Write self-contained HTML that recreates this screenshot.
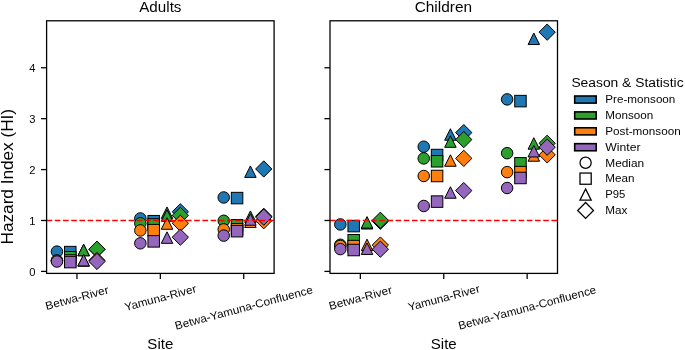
<!DOCTYPE html>
<html><head><meta charset="utf-8"><title>Hazard Index</title>
<style>html,body{margin:0;padding:0;background:#fff;}svg{display:block;}
text{fill:#000;font-family:"Liberation Sans",sans-serif;}</style></head>
<body><svg width="685" height="350" viewBox="0 0 685 350">
<rect width="685" height="350" fill="#fff"/>
<circle cx="56.94" cy="251.60" r="5.75" fill="#1f77b4" stroke="#000" stroke-width="1.0"/>
<rect x="64.53" y="246.36" width="11.50" height="11.50" fill="#1f77b4" stroke="#000" stroke-width="1.0"/>
<path d="M83.63,244.27L77.88,255.77L89.38,255.77Z" fill="#1f77b4" stroke="#000" stroke-width="1.0" stroke-linejoin="miter"/>
<path d="M96.97,241.12L105.10,249.25L96.97,257.39L88.84,249.25Z" fill="#1f77b4" stroke="#000" stroke-width="1.0" stroke-linejoin="miter"/>
<circle cx="56.94" cy="260.61" r="5.75" fill="#2ca02c" stroke="#000" stroke-width="1.0"/>
<rect x="64.53" y="251.50" width="11.50" height="11.50" fill="#2ca02c" stroke="#000" stroke-width="1.0"/>
<path d="M83.63,244.27L77.88,255.77L89.38,255.77Z" fill="#2ca02c" stroke="#000" stroke-width="1.0" stroke-linejoin="miter"/>
<path d="M96.97,241.12L105.10,249.25L96.97,257.39L88.84,249.25Z" fill="#2ca02c" stroke="#000" stroke-width="1.0" stroke-linejoin="miter"/>
<circle cx="56.94" cy="260.61" r="5.75" fill="#ff7f0e" stroke="#000" stroke-width="1.0"/>
<rect x="64.53" y="254.76" width="11.50" height="11.50" fill="#ff7f0e" stroke="#000" stroke-width="1.0"/>
<path d="M83.63,254.76L77.88,266.26L89.38,266.26Z" fill="#ff7f0e" stroke="#000" stroke-width="1.0" stroke-linejoin="miter"/>
<path d="M96.97,252.32L105.10,260.45L96.97,268.59L88.84,260.45Z" fill="#ff7f0e" stroke="#000" stroke-width="1.0" stroke-linejoin="miter"/>
<circle cx="56.94" cy="261.52" r="5.75" fill="#9467bd" stroke="#000" stroke-width="1.0"/>
<rect x="64.53" y="256.33" width="11.50" height="11.50" fill="#9467bd" stroke="#000" stroke-width="1.0"/>
<path d="M83.63,254.45L77.88,265.95L89.38,265.95Z" fill="#9467bd" stroke="#000" stroke-width="1.0" stroke-linejoin="miter"/>
<path d="M96.97,253.34L105.10,261.47L96.97,269.60L88.84,261.47Z" fill="#9467bd" stroke="#000" stroke-width="1.0" stroke-linejoin="miter"/>
<circle cx="140.34" cy="218.45" r="5.75" fill="#1f77b4" stroke="#000" stroke-width="1.0"/>
<rect x="147.93" y="215.45" width="11.50" height="11.50" fill="#1f77b4" stroke="#000" stroke-width="1.0"/>
<path d="M167.02,206.95L161.27,218.45L172.77,218.45Z" fill="#1f77b4" stroke="#000" stroke-width="1.0" stroke-linejoin="miter"/>
<path d="M180.36,203.65L188.50,211.78L180.36,219.92L172.23,211.78Z" fill="#1f77b4" stroke="#000" stroke-width="1.0" stroke-linejoin="miter"/>
<circle cx="140.34" cy="223.29" r="5.75" fill="#2ca02c" stroke="#000" stroke-width="1.0"/>
<rect x="147.93" y="218.66" width="11.50" height="11.50" fill="#2ca02c" stroke="#000" stroke-width="1.0"/>
<path d="M167.02,209.75L161.27,221.25L172.77,221.25Z" fill="#2ca02c" stroke="#000" stroke-width="1.0" stroke-linejoin="miter"/>
<path d="M180.36,207.27L188.50,215.40L180.36,223.53L172.23,215.40Z" fill="#2ca02c" stroke="#000" stroke-width="1.0" stroke-linejoin="miter"/>
<circle cx="140.34" cy="230.42" r="5.75" fill="#ff7f0e" stroke="#000" stroke-width="1.0"/>
<rect x="147.93" y="224.41" width="11.50" height="11.50" fill="#ff7f0e" stroke="#000" stroke-width="1.0"/>
<path d="M167.02,217.79L161.27,229.29L172.77,229.29Z" fill="#ff7f0e" stroke="#000" stroke-width="1.0" stroke-linejoin="miter"/>
<path d="M180.36,215.16L188.50,223.29L180.36,231.42L172.23,223.29Z" fill="#ff7f0e" stroke="#000" stroke-width="1.0" stroke-linejoin="miter"/>
<circle cx="140.34" cy="243.30" r="5.75" fill="#9467bd" stroke="#000" stroke-width="1.0"/>
<rect x="147.93" y="235.61" width="11.50" height="11.50" fill="#9467bd" stroke="#000" stroke-width="1.0"/>
<path d="M167.02,231.85L161.27,243.35L172.77,243.35Z" fill="#9467bd" stroke="#000" stroke-width="1.0" stroke-linejoin="miter"/>
<path d="M180.36,229.06L188.50,237.19L180.36,245.32L172.23,237.19Z" fill="#9467bd" stroke="#000" stroke-width="1.0" stroke-linejoin="miter"/>
<circle cx="223.73" cy="197.48" r="5.75" fill="#1f77b4" stroke="#000" stroke-width="1.0"/>
<rect x="231.32" y="192.34" width="11.50" height="11.50" fill="#1f77b4" stroke="#000" stroke-width="1.0"/>
<path d="M250.42,165.92L244.67,177.42L256.17,177.42Z" fill="#1f77b4" stroke="#000" stroke-width="1.0" stroke-linejoin="miter"/>
<path d="M263.76,160.84L271.89,168.97L263.76,177.10L255.63,168.97Z" fill="#1f77b4" stroke="#000" stroke-width="1.0" stroke-linejoin="miter"/>
<circle cx="223.73" cy="220.80" r="5.75" fill="#2ca02c" stroke="#000" stroke-width="1.0"/>
<rect x="231.32" y="219.53" width="11.50" height="11.50" fill="#2ca02c" stroke="#000" stroke-width="1.0"/>
<path d="M250.42,210.92L244.67,222.42L256.17,222.42Z" fill="#2ca02c" stroke="#000" stroke-width="1.0" stroke-linejoin="miter"/>
<path d="M263.76,208.13L271.89,216.26L263.76,224.40L255.63,216.26Z" fill="#2ca02c" stroke="#000" stroke-width="1.0" stroke-linejoin="miter"/>
<circle cx="223.73" cy="229.40" r="5.75" fill="#ff7f0e" stroke="#000" stroke-width="1.0"/>
<rect x="231.32" y="223.55" width="11.50" height="11.50" fill="#ff7f0e" stroke="#000" stroke-width="1.0"/>
<path d="M250.42,216.01L244.67,227.51L256.17,227.51Z" fill="#ff7f0e" stroke="#000" stroke-width="1.0" stroke-linejoin="miter"/>
<path d="M263.76,212.61L271.89,220.74L263.76,228.88L255.63,220.74Z" fill="#ff7f0e" stroke="#000" stroke-width="1.0" stroke-linejoin="miter"/>
<circle cx="223.73" cy="235.61" r="5.75" fill="#9467bd" stroke="#000" stroke-width="1.0"/>
<rect x="231.32" y="225.43" width="11.50" height="11.50" fill="#9467bd" stroke="#000" stroke-width="1.0"/>
<path d="M250.42,213.72L244.67,225.22L256.17,225.22Z" fill="#9467bd" stroke="#000" stroke-width="1.0" stroke-linejoin="miter"/>
<path d="M263.76,209.00L271.89,217.13L263.76,225.26L255.63,217.13Z" fill="#9467bd" stroke="#000" stroke-width="1.0" stroke-linejoin="miter"/>
<line x1="46.60" y1="220.49" x2="274.10" y2="220.49" stroke="#ff0000" stroke-width="1.6" stroke-dasharray="5.6 2.6"/>
<rect x="46.60" y="20.80" width="227.50" height="252.60" fill="none" stroke="#000" stroke-width="1.28"/>
<line x1="41.00" y1="271.40" x2="46.60" y2="271.40" stroke="#000" stroke-width="1.28"/>
<line x1="41.00" y1="220.49" x2="46.60" y2="220.49" stroke="#000" stroke-width="1.28"/>
<line x1="41.00" y1="169.58" x2="46.60" y2="169.58" stroke="#000" stroke-width="1.28"/>
<line x1="41.00" y1="118.67" x2="46.60" y2="118.67" stroke="#000" stroke-width="1.28"/>
<line x1="41.00" y1="67.76" x2="46.60" y2="67.76" stroke="#000" stroke-width="1.28"/>
<line x1="76.96" y1="273.40" x2="76.96" y2="279.00" stroke="#000" stroke-width="1.28"/>
<line x1="160.35" y1="273.40" x2="160.35" y2="279.00" stroke="#000" stroke-width="1.28"/>
<line x1="243.74" y1="273.40" x2="243.74" y2="279.00" stroke="#000" stroke-width="1.28"/>
<circle cx="340.34" cy="224.41" r="5.75" fill="#1f77b4" stroke="#000" stroke-width="1.0"/>
<rect x="347.93" y="220.34" width="11.50" height="11.50" fill="#1f77b4" stroke="#000" stroke-width="1.0"/>
<path d="M367.03,217.54L361.28,229.04L372.78,229.04Z" fill="#1f77b4" stroke="#000" stroke-width="1.0" stroke-linejoin="miter"/>
<path d="M380.37,213.12L388.50,221.25L380.37,229.39L372.24,221.25Z" fill="#1f77b4" stroke="#000" stroke-width="1.0" stroke-linejoin="miter"/>
<circle cx="340.34" cy="244.77" r="5.75" fill="#2ca02c" stroke="#000" stroke-width="1.0"/>
<rect x="347.93" y="234.49" width="11.50" height="11.50" fill="#2ca02c" stroke="#000" stroke-width="1.0"/>
<path d="M367.03,216.62L361.28,228.12L372.78,228.12Z" fill="#2ca02c" stroke="#000" stroke-width="1.0" stroke-linejoin="miter"/>
<path d="M380.37,212.15L388.50,220.29L380.37,228.42L372.24,220.29Z" fill="#2ca02c" stroke="#000" stroke-width="1.0" stroke-linejoin="miter"/>
<circle cx="340.34" cy="245.94" r="5.75" fill="#ff7f0e" stroke="#000" stroke-width="1.0"/>
<rect x="347.93" y="240.35" width="11.50" height="11.50" fill="#ff7f0e" stroke="#000" stroke-width="1.0"/>
<path d="M367.03,239.18L361.28,250.68L372.78,250.68Z" fill="#ff7f0e" stroke="#000" stroke-width="1.0" stroke-linejoin="miter"/>
<path d="M380.37,236.95L388.50,245.08L380.37,253.21L372.24,245.08Z" fill="#ff7f0e" stroke="#000" stroke-width="1.0" stroke-linejoin="miter"/>
<circle cx="340.34" cy="249.10" r="5.75" fill="#9467bd" stroke="#000" stroke-width="1.0"/>
<rect x="347.93" y="244.27" width="11.50" height="11.50" fill="#9467bd" stroke="#000" stroke-width="1.0"/>
<path d="M367.03,242.94L361.28,254.44L372.78,254.44Z" fill="#9467bd" stroke="#000" stroke-width="1.0" stroke-linejoin="miter"/>
<path d="M380.37,241.07L388.50,249.20L380.37,257.33L372.24,249.20Z" fill="#9467bd" stroke="#000" stroke-width="1.0" stroke-linejoin="miter"/>
<circle cx="423.74" cy="146.72" r="5.75" fill="#1f77b4" stroke="#000" stroke-width="1.0"/>
<rect x="431.33" y="149.27" width="11.50" height="11.50" fill="#1f77b4" stroke="#000" stroke-width="1.0"/>
<path d="M450.42,128.75L444.67,140.25L456.17,140.25Z" fill="#1f77b4" stroke="#000" stroke-width="1.0" stroke-linejoin="miter"/>
<path d="M463.76,124.49L471.90,132.62L463.76,140.75L455.63,132.62Z" fill="#1f77b4" stroke="#000" stroke-width="1.0" stroke-linejoin="miter"/>
<circle cx="423.74" cy="158.43" r="5.75" fill="#2ca02c" stroke="#000" stroke-width="1.0"/>
<rect x="431.33" y="155.53" width="11.50" height="11.50" fill="#2ca02c" stroke="#000" stroke-width="1.0"/>
<path d="M450.42,135.83L444.67,147.33L456.17,147.33Z" fill="#2ca02c" stroke="#000" stroke-width="1.0" stroke-linejoin="miter"/>
<path d="M463.76,131.46L471.90,139.59L463.76,147.73L455.63,139.59Z" fill="#2ca02c" stroke="#000" stroke-width="1.0" stroke-linejoin="miter"/>
<circle cx="423.74" cy="175.99" r="5.75" fill="#ff7f0e" stroke="#000" stroke-width="1.0"/>
<rect x="431.33" y="170.24" width="11.50" height="11.50" fill="#ff7f0e" stroke="#000" stroke-width="1.0"/>
<path d="M450.42,154.77L444.67,166.27L456.17,166.27Z" fill="#ff7f0e" stroke="#000" stroke-width="1.0" stroke-linejoin="miter"/>
<path d="M463.76,150.25L471.90,158.38L463.76,166.51L455.63,158.38Z" fill="#ff7f0e" stroke="#000" stroke-width="1.0" stroke-linejoin="miter"/>
<circle cx="423.74" cy="205.98" r="5.75" fill="#9467bd" stroke="#000" stroke-width="1.0"/>
<rect x="431.33" y="195.85" width="11.50" height="11.50" fill="#9467bd" stroke="#000" stroke-width="1.0"/>
<path d="M450.42,186.74L444.67,198.24L456.17,198.24Z" fill="#9467bd" stroke="#000" stroke-width="1.0" stroke-linejoin="miter"/>
<path d="M463.76,182.47L471.90,190.61L463.76,198.74L455.63,190.61Z" fill="#9467bd" stroke="#000" stroke-width="1.0" stroke-linejoin="miter"/>
<circle cx="507.13" cy="99.38" r="5.75" fill="#1f77b4" stroke="#000" stroke-width="1.0"/>
<rect x="514.72" y="95.36" width="11.50" height="11.50" fill="#1f77b4" stroke="#000" stroke-width="1.0"/>
<path d="M533.82,33.04L528.07,44.54L539.57,44.54Z" fill="#1f77b4" stroke="#000" stroke-width="1.0" stroke-linejoin="miter"/>
<path d="M547.16,24.04L555.29,32.17L547.16,40.31L539.03,32.17Z" fill="#1f77b4" stroke="#000" stroke-width="1.0" stroke-linejoin="miter"/>
<circle cx="507.13" cy="153.19" r="5.75" fill="#2ca02c" stroke="#000" stroke-width="1.0"/>
<rect x="514.72" y="157.57" width="11.50" height="11.50" fill="#2ca02c" stroke="#000" stroke-width="1.0"/>
<path d="M533.82,137.71L528.07,149.21L539.57,149.21Z" fill="#2ca02c" stroke="#000" stroke-width="1.0" stroke-linejoin="miter"/>
<path d="M547.16,135.18L555.29,143.31L547.16,151.44L539.03,143.31Z" fill="#2ca02c" stroke="#000" stroke-width="1.0" stroke-linejoin="miter"/>
<circle cx="507.13" cy="172.13" r="5.75" fill="#ff7f0e" stroke="#000" stroke-width="1.0"/>
<rect x="514.72" y="166.38" width="11.50" height="11.50" fill="#ff7f0e" stroke="#000" stroke-width="1.0"/>
<path d="M533.82,149.73L528.07,161.23L539.57,161.23Z" fill="#ff7f0e" stroke="#000" stroke-width="1.0" stroke-linejoin="miter"/>
<path d="M547.16,146.68L555.29,154.82L547.16,162.95L539.03,154.82Z" fill="#ff7f0e" stroke="#000" stroke-width="1.0" stroke-linejoin="miter"/>
<circle cx="507.13" cy="188.01" r="5.75" fill="#9467bd" stroke="#000" stroke-width="1.0"/>
<rect x="514.72" y="172.23" width="11.50" height="11.50" fill="#9467bd" stroke="#000" stroke-width="1.0"/>
<path d="M533.82,145.45L528.07,156.95L539.57,156.95Z" fill="#9467bd" stroke="#000" stroke-width="1.0" stroke-linejoin="miter"/>
<path d="M547.16,139.05L555.29,147.18L547.16,155.31L539.03,147.18Z" fill="#9467bd" stroke="#000" stroke-width="1.0" stroke-linejoin="miter"/>
<line x1="330.00" y1="220.49" x2="557.50" y2="220.49" stroke="#ff0000" stroke-width="1.6" stroke-dasharray="5.6 2.6"/>
<rect x="330.00" y="20.80" width="227.50" height="252.60" fill="none" stroke="#000" stroke-width="1.28"/>
<line x1="324.40" y1="271.40" x2="330.00" y2="271.40" stroke="#000" stroke-width="1.28"/>
<line x1="324.40" y1="220.49" x2="330.00" y2="220.49" stroke="#000" stroke-width="1.28"/>
<line x1="324.40" y1="169.58" x2="330.00" y2="169.58" stroke="#000" stroke-width="1.28"/>
<line x1="324.40" y1="118.67" x2="330.00" y2="118.67" stroke="#000" stroke-width="1.28"/>
<line x1="324.40" y1="67.76" x2="330.00" y2="67.76" stroke="#000" stroke-width="1.28"/>
<line x1="360.36" y1="273.40" x2="360.36" y2="279.00" stroke="#000" stroke-width="1.28"/>
<line x1="443.75" y1="273.40" x2="443.75" y2="279.00" stroke="#000" stroke-width="1.28"/>
<line x1="527.14" y1="273.40" x2="527.14" y2="279.00" stroke="#000" stroke-width="1.28"/>
<rect x="574.7" y="96.00" width="21.5" height="7.1" fill="#1f77b4" stroke="#000" stroke-width="1.6"/>
<rect x="574.7" y="111.89" width="21.5" height="7.1" fill="#2ca02c" stroke="#000" stroke-width="1.6"/>
<rect x="574.7" y="127.78" width="21.5" height="7.1" fill="#ff7f0e" stroke="#000" stroke-width="1.6"/>
<rect x="574.7" y="143.67" width="21.5" height="7.1" fill="#9467bd" stroke="#000" stroke-width="1.6"/>
<circle cx="585.60" cy="162.76" r="5.60" fill="#fff" stroke="#000" stroke-width="1.28"/>
<rect x="580.00" y="173.05" width="11.20" height="11.20" fill="#fff" stroke="#000" stroke-width="1.28"/>
<path d="M585.60,188.94L580.00,200.14L591.20,200.14Z" fill="#fff" stroke="#000" stroke-width="1.28" stroke-linejoin="miter"/>
<path d="M585.60,202.51L593.52,210.43L585.60,218.35L577.68,210.43Z" fill="#fff" stroke="#000" stroke-width="1.28" stroke-linejoin="miter"/>
<g opacity="0.99">
<text x="35.40" y="275.70" font-size="11.2" text-anchor="end" >0</text>
<text x="35.40" y="224.79" font-size="11.2" text-anchor="end" >1</text>
<text x="35.40" y="173.88" font-size="11.2" text-anchor="end" >2</text>
<text x="35.40" y="122.97" font-size="11.2" text-anchor="end" >3</text>
<text x="35.40" y="72.06" font-size="11.2" text-anchor="end" >4</text>
<text transform="translate(76.96,297.70) rotate(-15)" x="0" y="3.95" font-size="11.2" text-anchor="middle" textLength="65.01" lengthAdjust="spacingAndGlyphs" >Betwa-River</text>
<text transform="translate(160.35,297.70) rotate(-15)" x="0" y="3.95" font-size="11.2" text-anchor="middle" textLength="73.74" lengthAdjust="spacingAndGlyphs" >Yamuna-River</text>
<text transform="translate(243.74,307.60) rotate(-15)" x="0" y="3.95" font-size="11.2" text-anchor="middle" textLength="142.19" lengthAdjust="spacingAndGlyphs" >Betwa-Yamuna-Confluence</text>
<text x="160.35" y="11.5" font-size="14.5" text-anchor="middle" textLength="42.2" lengthAdjust="spacingAndGlyphs" >Adults</text>
<text x="160.35" y="348.6" font-size="14.5" text-anchor="middle" textLength="25.92" lengthAdjust="spacingAndGlyphs" >Site</text>
<text transform="translate(360.36,297.70) rotate(-15)" x="0" y="3.95" font-size="11.2" text-anchor="middle" textLength="65.01" lengthAdjust="spacingAndGlyphs" >Betwa-River</text>
<text transform="translate(443.75,297.70) rotate(-15)" x="0" y="3.95" font-size="11.2" text-anchor="middle" textLength="73.74" lengthAdjust="spacingAndGlyphs" >Yamuna-River</text>
<text transform="translate(527.14,307.60) rotate(-15)" x="0" y="3.95" font-size="11.2" text-anchor="middle" textLength="142.19" lengthAdjust="spacingAndGlyphs" >Betwa-Yamuna-Confluence</text>
<text x="443.35" y="11.5" font-size="14.5" text-anchor="middle" textLength="57.4" lengthAdjust="spacingAndGlyphs" >Children</text>
<text x="443.75" y="348.6" font-size="14.5" text-anchor="middle" textLength="25.92" lengthAdjust="spacingAndGlyphs" >Site</text>
<text transform="translate(12.5,176.7) rotate(-90)" x="0" y="0" font-size="15.8" text-anchor="middle" textLength="135.5" lengthAdjust="spacingAndGlyphs" >Hazard Index (HI)</text>
<text x="571.4" y="87.2" font-size="12.3" textLength="112.2" lengthAdjust="spacingAndGlyphs" >Season &amp; Statistic</text>
<text x="605.3" y="102.95" font-size="11.2" textLength="70.07" lengthAdjust="spacingAndGlyphs" >Pre-monsoon</text>
<text x="605.3" y="118.84" font-size="11.2" textLength="48.00" lengthAdjust="spacingAndGlyphs" >Monsoon</text>
<text x="605.3" y="134.73" font-size="11.2" textLength="75.45" lengthAdjust="spacingAndGlyphs" >Post-monsoon</text>
<text x="605.3" y="150.62" font-size="11.2" textLength="35.28" lengthAdjust="spacingAndGlyphs" >Winter</text>
<text x="605.3" y="166.51" font-size="11.2" textLength="38.91" lengthAdjust="spacingAndGlyphs" >Median</text>
<text x="605.3" y="182.40" font-size="11.2" textLength="29.15" lengthAdjust="spacingAndGlyphs" >Mean</text>
<text x="605.3" y="198.29" font-size="11.2" textLength="20.07" lengthAdjust="spacingAndGlyphs" >P95</text>
<text x="605.3" y="214.18" font-size="11.2" textLength="22.13" lengthAdjust="spacingAndGlyphs" >Max</text>
</g>
</svg></body></html>
